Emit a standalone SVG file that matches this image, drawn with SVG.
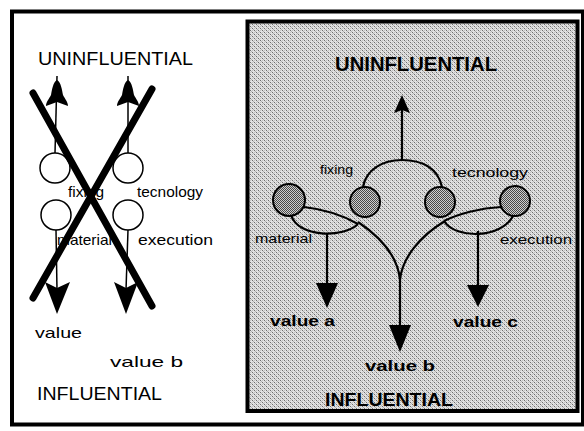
<svg xmlns="http://www.w3.org/2000/svg" width="584" height="431" viewBox="0 0 584 431">
<style>
.lt{font-family:"Liberation Sans",Arial,sans-serif;font-size:15px;fill:#000}
.big{font-family:"Liberation Sans",Arial,sans-serif;font-size:18px;fill:#000}
.rb{font-family:"Liberation Sans",Arial,sans-serif;font-weight:bold;fill:#000}
.rs{font-family:"Liberation Sans",Arial,sans-serif;font-size:13px;fill:#000}
.circ{fill:#fff;stroke:#000;stroke-width:1.5}
.hcirc{fill:url(#hatch);stroke:#000;stroke-width:2}
.thin{fill:none;stroke:#000;stroke-width:1.5}
.cross{fill:none;stroke:#000;stroke-width:7;stroke-linecap:round}
.wire{fill:none;stroke:#000;stroke-width:2.2}
.head{fill:#000}
</style>
<defs>
<pattern id="stip" width="4" height="4" patternUnits="userSpaceOnUse">
<rect width="4" height="4" fill="#e2e2e2"/>
<rect x="0" y="0" width="1" height="1" fill="#6e6e6e"/>
<rect x="1" y="1" width="1" height="1" fill="#b0b0b0"/>
<rect x="2" y="2" width="1" height="1" fill="#6e6e6e"/>
<rect x="3" y="3" width="1" height="1" fill="#b0b0b0"/>
<rect x="2" y="0" width="1" height="1" fill="#c0c0c0"/>
<rect x="0" y="2" width="1" height="1" fill="#c0c0c0"/>
</pattern>
<pattern id="hatch" width="2" height="2" patternUnits="userSpaceOnUse">
<rect width="2" height="2" fill="#cfcfcf"/>
<rect x="0" y="0" width="1" height="1" fill="#4a4a4a"/>
<rect x="1" y="1" width="1" height="1" fill="#4a4a4a"/>
</pattern>
</defs>
<rect x="0" y="0" width="584" height="431" fill="#fff"/>
<!-- outer frame -->
<rect x="12" y="11.5" width="571" height="413" fill="none" stroke="#000" stroke-width="4"/>
<!-- right panel -->
<rect id="right-panel" x="247.5" y="21.5" width="330" height="389.5" fill="url(#stip)" stroke="#000" stroke-width="4"/>

<!-- LEFT PANEL -->
<g id="left-uninfluential"><text class="big" x="38" y="65" font-size="19" textLength="155" lengthAdjust="spacingAndGlyphs">UNINFLUENTIAL</text></g>
<g id="left-influential"><text class="big" x="37" y="400" textLength="125" lengthAdjust="spacingAndGlyphs">INFLUENTIAL</text></g>
<g id="left-value"><text class="lt" x="35" y="338" font-size="16" textLength="47" lengthAdjust="spacingAndGlyphs">value</text></g>
<g id="left-value-b"><text class="lt" x="110" y="367" font-size="16" textLength="73" lengthAdjust="spacingAndGlyphs">value  b</text></g>

<g id="left-fixing">
<circle class="circ" cx="55" cy="168" r="15"/>
<text class="lt" x="68" y="197" textLength="36" lengthAdjust="spacingAndGlyphs">fixing</text>
</g>
<g id="left-technology">
<circle class="circ" cx="128" cy="168" r="15"/>
<text class="lt" x="137" y="197" textLength="66" lengthAdjust="spacingAndGlyphs">tecnology</text>
</g>
<g id="left-material">
<circle class="circ" cx="56" cy="215" r="15"/>
<text class="lt" x="57" y="245" textLength="55" lengthAdjust="spacingAndGlyphs">material</text>
</g>
<g id="left-execution">
<circle class="circ" cx="128" cy="215" r="15"/>
<text class="lt" x="138" y="245" textLength="75" lengthAdjust="spacingAndGlyphs">execution</text>
</g>

<g id="left-connectors">
<line class="thin" x1="57" y1="76" x2="55" y2="153"/>
<line class="thin" x1="128" y1="76" x2="128" y2="153"/>
<line class="thin" x1="56" y1="230" x2="57" y2="290"/>
<line class="thin" x1="128" y1="230" x2="126" y2="290"/>
<path class="head" d="M57,80 C61,82 62,90 63,95 C65,99 68,102 68,106 L57,102 L46,106 C46,102 49,99 51,95 C52,90 53,82 57,80 Z"/>
<path class="head" d="M128,80 C132,82 133,90 134,95 C136,99 139,102 139,106 L128,102 L117,106 C117,102 120,99 122,95 C123,90 124,82 128,80 Z"/>
<path class="head" d="M45,282 L57,288 L70,282 L57,314 Z"/>
<path class="head" d="M114,282 L126,288 L138,282 L126,314 Z"/>
<line class="cross" x1="33" y1="93" x2="152" y2="306"/>
<line class="cross" x1="152" y1="89" x2="33" y2="298"/>
</g>

<!-- RIGHT PANEL -->
<g id="right-uninfluential"><text class="rb" x="335" y="71" font-size="20" textLength="162" lengthAdjust="spacingAndGlyphs">UNINFLUENTIAL</text></g>
<g id="right-influential"><text class="rb" x="325" y="406" font-size="19" textLength="128" lengthAdjust="spacingAndGlyphs">INFLUENTIAL</text></g>
<g id="right-value-a"><text class="rb" x="270" y="326" font-size="15" textLength="65" lengthAdjust="spacingAndGlyphs">value a</text></g>
<g id="right-value-b"><text class="rb" x="365" y="371" font-size="15" textLength="70" lengthAdjust="spacingAndGlyphs">value  b</text></g>
<g id="right-value-c"><text class="rb" x="453" y="327" font-size="15" textLength="65" lengthAdjust="spacingAndGlyphs">value c</text></g>

<g id="right-connectors">
<path class="wire" d="M363,187 C366,170 382,160 402,160 C422,160 438,168 442,187"/>
<line class="wire" x1="402" y1="160" x2="402" y2="108"/>
<path class="head" fill="#333" d="M402,95 L410,113 L402,110 L394,113 Z"/>
<path class="wire" d="M304,207 C322,209 342,215 358,224"/>
<path class="wire" d="M291,215 C298,238 344,238 358,224"/>
<path class="wire" d="M358,222 C382,238 398,258 400,280 L400,330"/>
<line class="wire" x1="327" y1="233" x2="327" y2="288"/>
<path class="head" d="M316,283 L338,283 L327,308 Z"/>
<path class="head" d="M389,325 L411,325 L400,352 Z"/>
<path class="wire" d="M501,207 C480,208 458,214 444,221"/>
<path class="wire" d="M444,221 C456,240 502,238 513,216"/>
<path class="wire" d="M445,221 C420,236 402,258 400,280"/>
<line class="wire" x1="478" y1="231" x2="478" y2="290"/>
<path class="head" d="M467,285 L489,285 L478,307 Z"/>
</g>

<g id="right-material">
<circle class="hcirc" cx="289" cy="200" r="16"/>
<text class="rs" x="255" y="243" font-size="12" textLength="57" lengthAdjust="spacingAndGlyphs">material</text>
</g>
<g id="right-fixing">
<circle class="hcirc" cx="365" cy="202" r="15"/>
<text class="rs" x="320" y="174" textLength="33" lengthAdjust="spacingAndGlyphs">fixing</text>
</g>
<g id="right-technology">
<circle class="hcirc" cx="440" cy="202" r="15"/>
<text class="rs" x="452" y="177" font-size="14" textLength="76" lengthAdjust="spacingAndGlyphs">tecnology</text>
</g>
<g id="right-execution">
<circle class="hcirc" cx="515" cy="201" r="15"/>
<text class="rs" x="500" y="244" textLength="72" lengthAdjust="spacingAndGlyphs">execution</text>
</g>
</svg>
